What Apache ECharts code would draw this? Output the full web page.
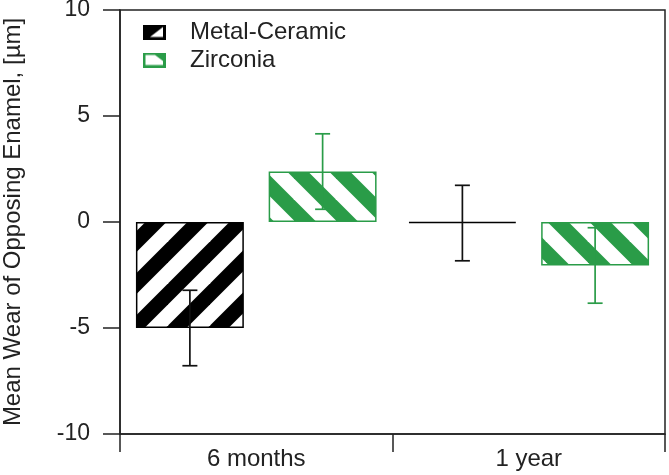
<!DOCTYPE html>
<html>
<head>
<meta charset="utf-8">
<script src="https://cdn.jsdelivr.net/npm/echarts@6/dist/echarts.min.js"></script>
<style>html,body{margin:0;padding:0;background:#fff}#c{width:669px;height:475px}</style>
</head>
<body>
<div id="c"></div>
<script>
const categories = ['6 months', '1 year'];
const metalCeramic = [-5.0, -0.05];
const metalCeramicErr = [1.78, 1.78];
const zirconia = [2.38, -2.05];
const zirconiaErr = [1.78, 1.78];
const yTicks = { min: -10, max: 10, interval: 5 };

const GREEN = '#2a9c48';
const FONT = 'Liberation Sans, Arial, sans-serif';

function stripes(color, dir) {
  const P = 42;
  const cv = document.createElement('canvas');
  cv.width = P; cv.height = P;
  const ctx = cv.getContext('2d');
  ctx.fillStyle = '#fff';
  ctx.fillRect(0, 0, P, P);
  ctx.strokeStyle = color;
  ctx.lineWidth = P / Math.SQRT2 / 2;
  for (let k = -2; k <= 3; k++) {
    const c = k * P;
    ctx.beginPath();
    if (dir === '/') {
      ctx.moveTo(c + P, -P); ctx.lineTo(c - 2 * P, 2 * P);
    } else {
      ctx.moveTo(c - P, -P); ctx.lineTo(c + 2 * P, 2 * P);
    }
    ctx.stroke();
  }
  return { image: cv, repeat: 'repeat' };
}

function legendIcon(kind) {
  const W = 46, H = 30; // drawn at 2x, shown 23x15
  const cv = document.createElement('canvas');
  cv.width = W; cv.height = H;
  const ctx = cv.getContext('2d');
  if (kind === 'mc') {
    ctx.fillStyle = '#000';
    ctx.fillRect(0, 0, W, H);
    ctx.fillStyle = '#fff';
    ctx.beginPath();
    ctx.moveTo(14, H - 5); ctx.lineTo(W - 6, 5); ctx.lineTo(W - 6, H - 5); ctx.closePath();
    ctx.fill();
  } else {
    ctx.fillStyle = GREEN;
    ctx.fillRect(0, 0, W, H);
    ctx.fillStyle = '#fff';
    ctx.beginPath();
    ctx.moveTo(5, 5); ctx.lineTo(24, 5); ctx.lineTo(W - 6, 17); ctx.lineTo(W - 6, H - 5); ctx.lineTo(5, H - 5); ctx.closePath();
    ctx.fill();
  }
  return 'image://' + cv.toDataURL();
}

const BW = 0.396, GAP = 0.23;

function errSeries(name, vals, errs, color, sign) {
  return {
    type: 'custom',
    name: name,
    z: 10,
    data: vals.map((v, i) => [i, v, errs[i]]),
    renderItem: function (params, api) {
      const i = api.value(0), v = api.value(1), e = api.value(2);
      const band = api.size([1, 0])[0];
      const off = sign * BW * (1 + GAP) / 2 * band;
      const top = api.coord([i, v + e]);
      const bot = api.coord([i, v - e]);
      const x = top[0] + off;
      const cap = 7.5;
      const st = { stroke: color, lineWidth: 1.7 };
      return {
        type: 'group',
        children: [
          { type: 'line', shape: { x1: x, y1: top[1], x2: x, y2: bot[1] }, style: st },
          { type: 'line', shape: { x1: x - cap, y1: top[1], x2: x + cap, y2: top[1] }, style: st },
          { type: 'line', shape: { x1: x - cap, y1: bot[1], x2: x + cap, y2: bot[1] }, style: st }
        ]
      };
    }
  };
}

const chart = echarts.init(document.getElementById('c'), null, { renderer: 'canvas' });
chart.setOption({
  animation: false,
  backgroundColor: '#fff',
  textStyle: { fontFamily: FONT },
  grid: { left: 120, right: 4, top: 10, bottom: 41, show: true, borderColor: '#222', borderWidth: 1.5, backgroundColor: 'transparent', containLabel: false, outerBoundsMode: 'none' },
  legend: {
    orient: 'vertical',
    left: 138, top: 15,
    itemWidth: 23, itemHeight: 15, itemGap: 4,
    data: [
      { name: 'Metal-Ceramic', icon: legendIcon('mc') },
      { name: 'Zirconia', icon: legendIcon('zr') }
    ],
    textStyle: { fontSize: 24, color: '#222', fontFamily: FONT, padding: [0, 0, 0, 19] }
  },
  xAxis: {
    type: 'category',
    data: categories,
    axisLine: { onZero: false, lineStyle: { color: '#222', width: 1.5 } },
    axisTick: { show: true, length: 18, lineStyle: { color: '#222', width: 1.5 } },
    axisLabel: { fontSize: 24, color: '#222', margin: 13, fontFamily: FONT }
  },
  yAxis: {
    type: 'value',
    min: yTicks.min, max: yTicks.max, interval: yTicks.interval,
    name: 'Mean Wear of Opposing Enamel, [µm]',
    nameLocation: 'middle',
    nameGap: 95,
    nameTextStyle: { fontSize: 24, color: '#222', fontFamily: FONT },
    splitLine: { show: false },
    axisLine: { show: true, lineStyle: { color: '#222', width: 1.5 } },
    axisTick: { show: true, length: 17, lineStyle: { color: '#222', width: 1.5 } },
    axisLabel: { fontSize: 23, color: '#222', margin: 30, fontFamily: FONT }
  },
  series: [
    {
      type: 'bar', name: 'Metal-Ceramic', data: metalCeramic,
      barWidth: (BW * 100) + '%', barGap: (GAP * 100) + '%',
      itemStyle: { color: stripes('#000', '/'), borderColor: '#000', borderWidth: 1.5 }
    },
    {
      type: 'bar', name: 'Zirconia', data: zirconia,
      barWidth: (BW * 100) + '%', barGap: (GAP * 100) + '%',
      itemStyle: { color: stripes(GREEN, '\\'), borderColor: GREEN, borderWidth: 1.5 }
    },
    errSeries('mcErr', metalCeramic, metalCeramicErr, '#111', -1),
    errSeries('zrErr', zirconia, zirconiaErr, GREEN, 1)
  ]
});
</script>
</body>
</html>
